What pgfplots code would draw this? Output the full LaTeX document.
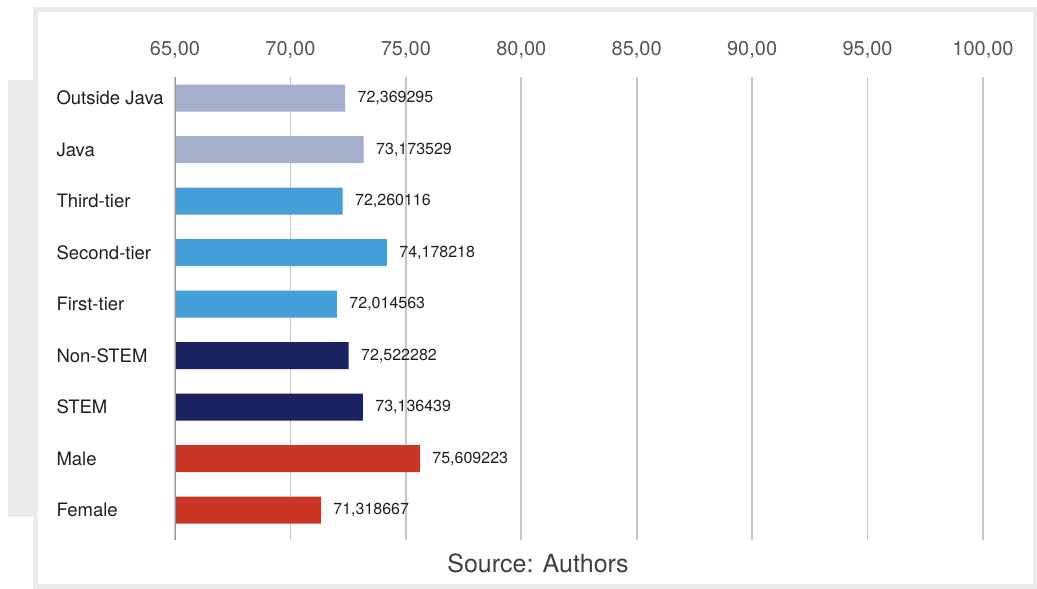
\documentclass[border=0pt]{standalone}
\usepackage{pgfplots}
\pgfplotsset{compat=1.18}
\usepackage{fontspec}
\setmainfont{TeX Gyre Heros}
\definecolor{framec}{HTML}{EBEBEB}
\definecolor{javac}{HTML}{A4AFCB}
\definecolor{tierc}{HTML}{449FD9}
\definecolor{stemc}{HTML}{1B2261}
\definecolor{sexc}{HTML}{C93626}
\definecolor{gridc}{HTML}{C6C6C6}
\definecolor{ticktext}{HTML}{555555}
\begin{document}
\begin{tikzpicture}[x=1pt,y=1pt]
\useasboundingbox (0,0) rectangle (1037,589);
\fill[framec] (8,72) rectangle (36,509);
\draw[framec, line width=5pt] (35.5,2.5) rectangle (1035.5,579.5);
\begin{axis}[
  at={(175pt,49pt)}, anchor=south west,
  scale only axis, width=808pt, height=463pt,
  xmin=65, xmax=100, ymin=-0.58, ymax=8.41,
  xtick={65,70,...,100},
  ytick={0,...,8},
  yticklabels={Female,Male,STEM,Non-STEM,First-tier,Second-tier,Third-tier,Java,Outside Java},
  xticklabel pos=upper,
  axis line style={draw=none},
  major tick length=0pt,
  xmajorgrids, grid style={gridc, line width=1.7pt},
  /pgf/number format/.cd, use comma, fixed, fixed zerofill, precision=2, assume math mode=true,
  /pgfplots/.cd,
  xticklabel style={font=\fontsize{20}{24}\selectfont, text=ticktext, anchor=south, yshift=15pt},
  yticklabel style={font=\fontsize{18.5}{22}\selectfont, text=black!88, anchor=west, xshift=-122pt},
  xbar, bar width=27pt, bar shift=0pt,
  point meta=explicit symbolic,
  nodes near coords,
  nodes near coords style={font=\fontsize{16}{19}\selectfont, text=black!88, anchor=west, xshift=9pt},
]
\addplot[draw=none, fill=javac] table[meta index=2] {
x y label
72.369295 8 {72,369295}
73.173529 7 {73,173529}
};
\addplot[draw=none, fill=tierc] table[meta index=2] {
x y label
72.260116 6 {72,260116}
74.178218 5 {74,178218}
72.014563 4 {72,014563}
};
\addplot[draw=none, fill=stemc] table[meta index=2] {
x y label
72.522282 3 {72,522282}
73.136439 2 {73,136439}
};
\addplot[draw=none, fill=sexc] table[meta index=2] {
x y label
75.609223 1 {75,609223}
71.318667 0 {71,318667}
};
\draw[gray!80, line width=2.2pt] (axis cs:65,-0.58) -- (axis cs:65,8.41);
\end{axis}
\node[text=black!75, font=\fontsize{25}{30}\selectfont] at (538,26) {Source: Authors};
\end{tikzpicture}
\end{document}
